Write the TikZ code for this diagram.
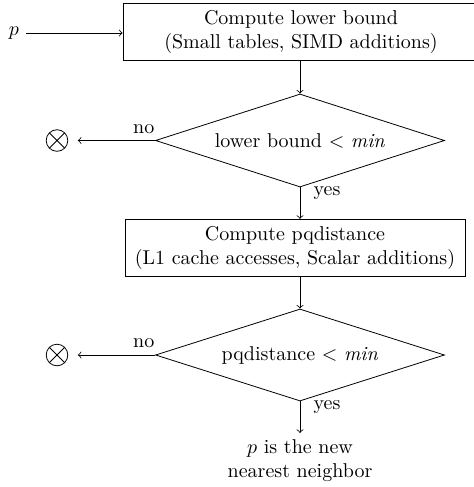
\documentclass[tikz,border=0pt]{standalone}
\usetikzlibrary{shapes.geometric}
\begin{document}
\begin{tikzpicture}[x=0.5pt,y=-0.5pt,
  procbox/.style={draw, rectangle, align=center, inner sep=0pt, minimum height=28.7pt},
  decision/.style={draw, diamond, inner sep=0pt, aspect=3.1, minimum width=144.5pt, minimum height=46.5pt},
  sink/.style={draw, circle, inner sep=0pt, minimum size=10.8pt,
    path picture={\draw (path picture bounding box.north west) -- (path picture bounding box.south east)
                        (path picture bounding box.north east) -- (path picture bounding box.south west);}},
  flow/.style={->},
  tosink/.style={->, shorten >=4.8pt},
  yeslbl/.style={right, xshift=3.3pt},
  nolbl/.style={above}]
\useasboundingbox (0,0) rectangle (474,487);
\node (p) at (14,33) {$p$};
\node[procbox, minimum width=178pt] (b1) at (301,32) {Compute lower bound\\(Small tables, SIMD additions)};
\node[decision] (d1) at (300,140.5) {lower bound $<$ \textit{min}};
\node[sink] (x1) at (57,140.5) {};
\node[procbox, minimum width=169.9pt] (b2) at (295,248) {Compute pqdistance\\(L1 cache accesses, Scalar additions)};
\node[decision, minimum height=46pt] (d2) at (300,355) {pqdistance $<$ \textit{min}};
\node[sink] (x2) at (57,355) {};
\node[anchor=north, align=center] (res) at (300,433) {$p$ is the new\\nearest neighbor};

\draw[flow] (p) -- (p -| b1.west);
\draw[flow] (b1.south -| d1.north) -- (d1.north);
\draw[tosink] (d1.west) -- node[nolbl, pos=0.13] {no} (x1);
\draw[flow] (d1.south) -- node[yeslbl, pos=0.17] {yes} (d1.south |- b2.north);
\draw[flow] (b2.south -| d2.north) -- (d2.north);
\draw[tosink] (d2.west) -- node[nolbl, pos=0.13] {no} (x2);
\draw[flow] (d2.south) -- node[yeslbl, pos=0.18] {yes} (res.north);
\end{tikzpicture}
\end{document}
